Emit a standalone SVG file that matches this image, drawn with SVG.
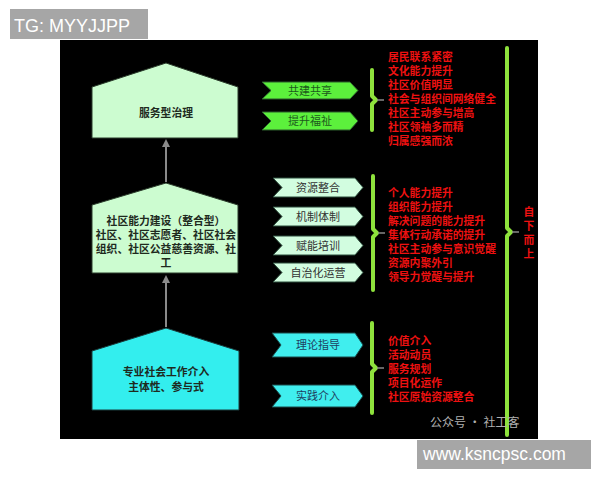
<svg xmlns="http://www.w3.org/2000/svg" width="600" height="480" viewBox="0 0 600 480">
<style>
.cjk{font-family:"Noto Sans CJK SC","Noto Sans",sans-serif}
.tight{font-family:"Liberation Sans","Noto Sans CJK SC",sans-serif}
.house{font-size:10.8px;font-weight:bold;fill:#1e2a1e;text-anchor:middle}
.tagt{font-size:11px;text-anchor:middle}
.red{font-size:10.8px;font-weight:bold;fill:#ee1111}
.brk{fill:none;stroke:#8ee23c;stroke-width:4;stroke-linecap:round;stroke-linejoin:round}
.tick{stroke:#888;stroke-width:1.5}
.lab{font-family:"Liberation Sans",Arial,sans-serif;fill:#fff}
</style>
<defs>
<marker id="ah" markerWidth="8" markerHeight="8" refX="4" refY="4" orient="auto" markerUnits="userSpaceOnUse">
<path d="M0,0 L8,4 L0,8 Z" fill="#8a8a8a"/>
</marker>
</defs>
<rect width="600" height="480" fill="#fff"/>
<rect x="60" y="40" width="478" height="399" fill="#000"/>

<g id="labels">
<rect x="10" y="9" width="138" height="30" fill="#a6a6a6"/>
<text class="lab" x="14" y="32" font-size="18">TG: MYYJJPP</text>
<rect x="417" y="440" width="174" height="29" fill="#a6a6a6"/>
<text class="lab" x="423" y="460" font-size="17.5">www.ksncpsc.com</text>
</g>

<g id="connectors">
<line x1="166" y1="182" x2="166" y2="143" stroke="#8a8a8a" stroke-width="2" marker-end="url(#ah)"/>
<line x1="166" y1="327" x2="166" y2="279" stroke="#8a8a8a" stroke-width="2" marker-end="url(#ah)"/>
</g>

<g id="house-top">
<polygon points="92,87 166,63 238,87 238,138 92,138" fill="#ccfcd0" stroke="#2a3a2a" stroke-width="1"/>
<text class="cjk house" x="166" y="117">服务型治理</text>
</g>
<g id="house-mid">
<polygon points="92,205 166,183 238,205 238,273 92,273" fill="#ccfcd0" stroke="#2a3a2a" stroke-width="1"/>
<text class="tight house" x="166" y="225">社区能力建设（整合型）</text>
<text class="tight house" x="166" y="239">社区、社区志愿者、社区社会</text>
<text class="tight house" x="166" y="253">组织、社区公益慈善资源、社</text>
<text class="tight house" x="166" y="267">工</text>
</g>
<g id="house-bot">
<polygon points="92,351 166,328 239,351 239,410 92,410" fill="#33eeee" stroke="#1a3a3a" stroke-width="1"/>
<text class="tight house" x="166" y="376">专业社会工作介入</text>
<text class="tight house" x="166" y="391">主体性、参与式</text>
</g>

<g id="tag-gj">
<path d="M262,82 H350 L358,90.5 L350,99 H262 L271,90.5 Z" fill="#5cf03c" stroke="#2a5a2a"/>
<text class="cjk tagt" x="310" y="94.5" fill="#1c5a1c">共建共享</text>
</g>
<g id="tag-ts">
<path d="M262,112 H350 L358,121 L350,130 H262 L271,121 Z" fill="#5cf03c" stroke="#2a5a2a"/>
<text class="cjk tagt" x="310" y="125" fill="#1c5a1c">提升福祉</text>
</g>
<g id="tag-zy">
<path d="M273,178 H355 L363,187.5 L355,197 H273 L282,187.5 Z" fill="#d2fde0" stroke="#2a4a3a"/>
<text class="cjk tagt" x="318" y="191.5" fill="#333">资源整合</text>
</g>
<g id="tag-jz">
<path d="M273,207 H355 L363,216.5 L355,226 H273 L282,216.5 Z" fill="#d2fde0" stroke="#2a4a3a"/>
<text class="cjk tagt" x="318" y="220.5" fill="#333">机制体制</text>
</g>
<g id="tag-fn">
<path d="M273,236 H355 L363,245.5 L355,255 H273 L282,245.5 Z" fill="#d2fde0" stroke="#2a4a3a"/>
<text class="cjk tagt" x="318" y="249.5" fill="#333">赋能培训</text>
</g>
<g id="tag-zz">
<path d="M273,263 H355 L363,272.5 L355,282 H273 L282,272.5 Z" fill="#d2fde0" stroke="#2a4a3a"/>
<text class="cjk tagt" x="318" y="276.5" fill="#333">自治化运营</text>
</g>
<g id="tag-ll">
<path d="M272,333 H355 L363,345 L355,357 H272 L281,345 Z" fill="#40eeee" stroke="#1a4a4a"/>
<text class="cjk tagt" x="318" y="349" fill="#1e4060">理论指导</text>
</g>
<g id="tag-sj">
<path d="M272,385 H355 L363,396 L355,407 H272 L281,396 Z" fill="#40eeee" stroke="#1a4a4a"/>
<text class="cjk tagt" x="318" y="400" fill="#1e4060">实践介入</text>
</g>

<g id="brackets">
<path class="brk" d="M372,70 V96 L376,100 L372,104 V130"/>
<line class="tick" x1="377" y1="100" x2="384" y2="100"/>
<path class="brk" d="M373,176 V229 L377,233 L373,237 V290"/>
<line class="tick" x1="378" y1="233" x2="385" y2="233"/>
<path class="brk" d="M372,323 V364 L376,368 L372,372 V413"/>
<line class="tick" x1="377" y1="368" x2="384" y2="368"/>
<path class="brk" d="M507,48 V228 L511,232 L507,236 V435"/>
<line class="tick" x1="512" y1="232" x2="519" y2="232"/>
</g>

<g id="list-top" class="tight red">
<text x="388" y="61">居民联系紧密</text>
<text x="388" y="75">文化能力提升</text>
<text x="388" y="89">社区价值明显</text>
<text x="388" y="103">社会与组织间网络健全</text>
<text x="388" y="117">社区主动参与增高</text>
<text x="388" y="131">社区领袖多而精</text>
<text x="388" y="145">归属感强而浓</text>
</g>
<g id="list-mid" class="tight red">
<text x="388" y="197">个人能力提升</text>
<text x="388" y="211">组织能力提升</text>
<text x="388" y="225">解决问题的能力提升</text>
<text x="388" y="239">集体行动承诺的提升</text>
<text x="388" y="253">社区主动参与意识觉醒</text>
<text x="388" y="267">资源内聚外引</text>
<text x="388" y="281">领导力觉醒与提升</text>
</g>
<g id="list-bot" class="tight red">
<text x="388" y="345">价值介入</text>
<text x="388" y="359">活动动员</text>
<text x="388" y="373">服务规划</text>
<text x="388" y="387">项目化运作</text>
<text x="388" y="401">社区原始资源整合</text>
</g>
<g id="updown" class="tight red" text-anchor="middle" font-size="12">
<text x="529" y="216">自</text>
<text x="529" y="230">下</text>
<text x="529" y="244">而</text>
<text x="529" y="258">上</text>
</g>
<text class="cjk" x="430" y="427" font-size="12" fill="#b0b0b0">公众号 · 社工客</text>
</svg>
